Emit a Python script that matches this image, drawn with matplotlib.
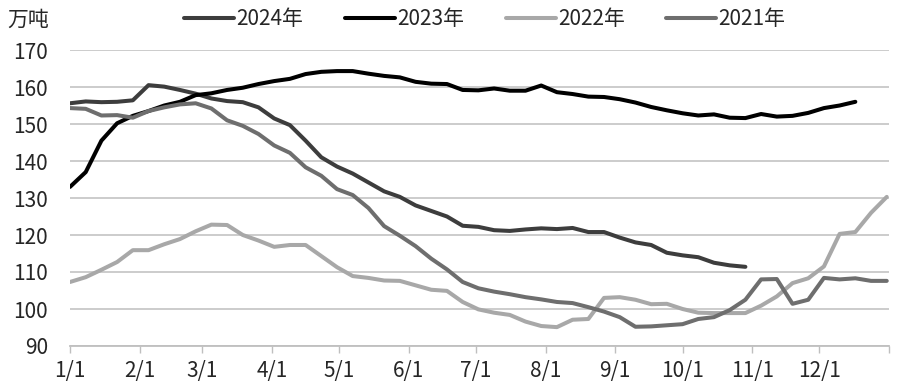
import numpy as np
import matplotlib
matplotlib.use("Agg")
import matplotlib.pyplot as plt

plt.rcParams['font.family'] = ['Noto Sans CJK SC', 'DejaVu Sans']

# weekly readings, day-of-year = 7 * index
y2024 = [155.6, 156.1, 155.9, 156.0, 156.4, 160.5, 160.1, 159.2, 158.2, 156.9,
         156.2, 155.9, 154.5, 151.5, 149.7, 145.5, 141.0, 138.5, 136.6, 134.2,
         131.8, 130.3, 128.0, 126.5, 125.0, 122.5, 122.2, 121.3, 121.1, 121.5,
         121.8, 121.6, 121.9, 120.8, 120.8, 119.3, 118.0, 117.3, 115.2, 114.5,
         114.0, 112.5, 111.8, 111.4]
y2023 = [133.0, 137.0, 145.5, 150.2, 152.2, 153.5, 155.0, 156.0, 157.8, 158.3,
         159.2, 159.8, 160.8, 161.6, 162.2, 163.5, 164.1, 164.3, 164.3, 163.6,
         163.0, 162.6, 161.4, 160.9, 160.8, 159.2, 159.1, 159.6, 159.0, 159.0,
         160.4, 158.6, 158.1, 157.4, 157.3, 156.7, 155.8, 154.6, 153.7, 152.9,
         152.3, 152.6, 151.7, 151.6, 152.7, 152.0, 152.2, 153.0, 154.3, 155.0,
         156.0]
y2022 = [107.3, 108.6, 110.6, 112.7, 115.9, 115.9, 117.5, 118.9, 121.0, 122.8,
         122.7, 120.0, 118.5, 116.8, 117.3, 117.3, 114.3, 111.3, 108.9, 108.4,
         107.7, 107.6, 106.4, 105.2, 104.9, 101.9, 99.9, 99.0, 98.4, 96.6,
         95.4, 95.1, 97.1, 97.3, 103.0, 103.2, 102.5, 101.3, 101.4, 100.0,
         99.0, 98.9, 98.9, 98.9, 100.9, 103.4, 107.0, 108.3, 111.5, 120.3,
         120.8, 126.0, 130.3]
y2021 = [154.3, 154.1, 152.3, 152.4, 151.7, 153.5, 154.5, 155.3, 155.6, 154.2,
         151.0, 149.5, 147.3, 144.2, 142.2, 138.3, 136.0, 132.4, 130.8, 127.3,
         122.4, 119.8, 117.0, 113.6, 110.7, 107.3, 105.6, 104.7, 104.0, 103.2,
         102.6, 101.9, 101.6, 100.5, 99.3, 97.8, 95.2, 95.3, 95.6, 95.9,
         97.3, 97.8, 99.7, 102.5, 108.0, 108.1, 101.4, 102.5, 108.4, 108.0,
         108.3, 107.6, 107.6]

month_days = [0, 31, 59, 90, 120, 151, 181, 212, 243, 273, 304, 334, 365]
month_labels = ["1/1", "2/1", "3/1", "4/1", "5/1", "6/1", "7/1",
                "8/1", "9/1", "10/1", "11/1", "12/1", ""]

series = [
    ("2024年", y2024, "#3d3d3d"),
    ("2023年", y2023, "#000000"),
    ("2022年", y2022, "#a8a8a8"),
    ("2021年", y2021, "#6e6e6e"),
]

fig = plt.figure(figsize=(9, 3.92), dpi=100)
ax = fig.add_axes([70/900, 1 - 346/392, 819/900, 296/392])

for name, vals, col in series:
    d = np.arange(len(vals)) * 7
    ax.plot(d, vals, color=col, lw=2.9, label=name, solid_capstyle='round')

ax.set_xlim(0, 365)
ax.set_ylim(90, 170)
ax.set_yticks(range(90, 171, 10))
ax.yaxis.grid(True, color="#c8c8c8", lw=1.3)
ax.set_axisbelow(True)

ax.set_xticks(month_days)
ax.set_xticklabels(month_labels)
ax.tick_params(axis='x', length=5, width=1, color="#bfbfbf",
               labelsize=15, pad=5, labelcolor="#262626")
ax.tick_params(axis='y', length=0, labelsize=15, pad=16, labelcolor="#262626")

for s in ["top", "right", "left"]:
    ax.spines[s].set_visible(False)
ax.spines["bottom"].set_color("#bfbfbf")
ax.spines["bottom"].set_linewidth(1.3)

fig.text(7/900, 1 - 20/392, "万吨", fontsize=15, color="#262626", va="center", ha="left")

leg = fig.legend(loc="center", bbox_to_anchor=(485/900, 1 - 19/392), ncol=4,
                 frameon=False, fontsize=15, handlelength=2.4, handletextpad=0.1,
                 columnspacing=2.0)
for t in leg.get_texts():
    t.set_color("#262626")

fig.savefig("out.png", dpi=100)
